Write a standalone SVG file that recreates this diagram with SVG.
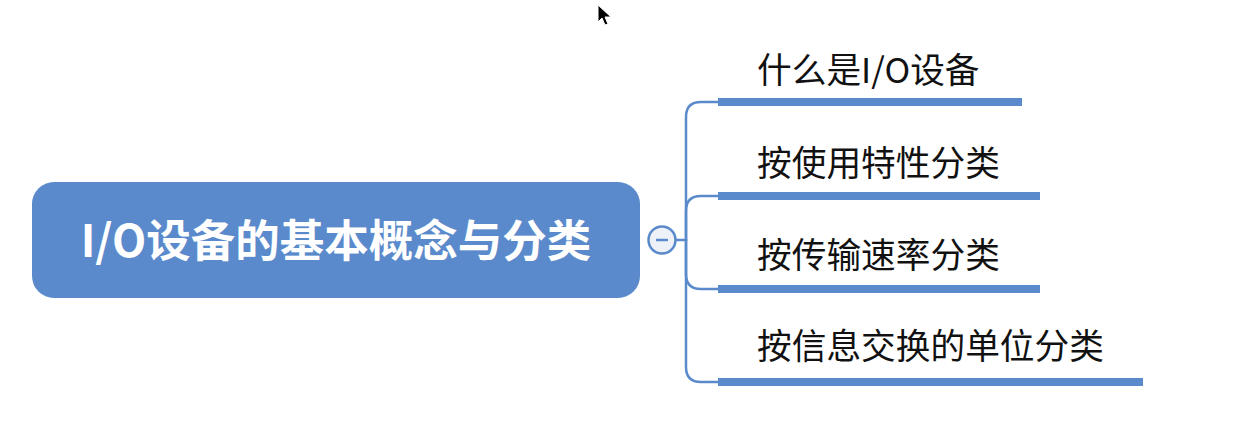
<svg xmlns="http://www.w3.org/2000/svg" width="1245" height="427" viewBox="0 0 1245 427">
<style>
.conn{fill:none;stroke:#5A8ACB;stroke-width:2.5;stroke-linecap:round}
.bar{fill:#5A8ACB}
.child{font-family:"Noto Sans CJK SC","Liberation Sans",sans-serif;font-size:34.7px;fill:#111}
.main{font-family:"Noto Sans CJK SC","Liberation Sans",sans-serif;font-size:44.5px;font-weight:bold;fill:#fff}
</style>
<rect width="1245" height="427" fill="#ffffff"/>
<g id="connectors">
<path class="conn" d="M675,240 H686"/>
<path class="conn" d="M686,240 V117 Q686,102 701,102 H718"/>
<path class="conn" d="M686,240 V211 Q686,196 701,196 H718"/>
<path class="conn" d="M686,240 V274 Q686,289 701,289 H718"/>
<path class="conn" d="M686,240 V367 Q686,382 701,382 H718"/>
</g>
<g id="root">
<rect x="32" y="182" width="608" height="116" rx="22" fill="#5A8ACB"/>
<text class="main" x="336" y="257" text-anchor="middle">I/O设备的基本概念与分类</text>
</g>
<g id="collapse">
<circle cx="662" cy="240" r="13.5" fill="#EEF2F8" stroke="#5A8ACB" stroke-width="2.5"/>
<line x1="656" y1="240" x2="668" y2="240" stroke="#5A8ACB" stroke-width="2.5"/>
</g>
<g id="n1">
<text class="child" x="757" y="83">什么是I/O设备</text>
<rect class="bar" x="718" y="98" width="304" height="8"/>
</g>
<g id="n2">
<text class="child" x="757" y="176">按使用特性分类</text>
<rect class="bar" x="718" y="192" width="322" height="8"/>
</g>
<g id="n3">
<text class="child" x="757" y="268">按传输速率分类</text>
<rect class="bar" x="718" y="285" width="322" height="8"/>
</g>
<g id="n4">
<text class="child" x="757" y="359">按信息交换的单位分类</text>
<rect class="bar" x="718" y="378" width="425" height="8"/>
</g>
<g id="cursor">
<path d="M598,5 V22 L602,18 L605,25 L608,24 L605,17 L611,17 Z" fill="#000" stroke="#fff" stroke-width="1"/>
</g>
</svg>
